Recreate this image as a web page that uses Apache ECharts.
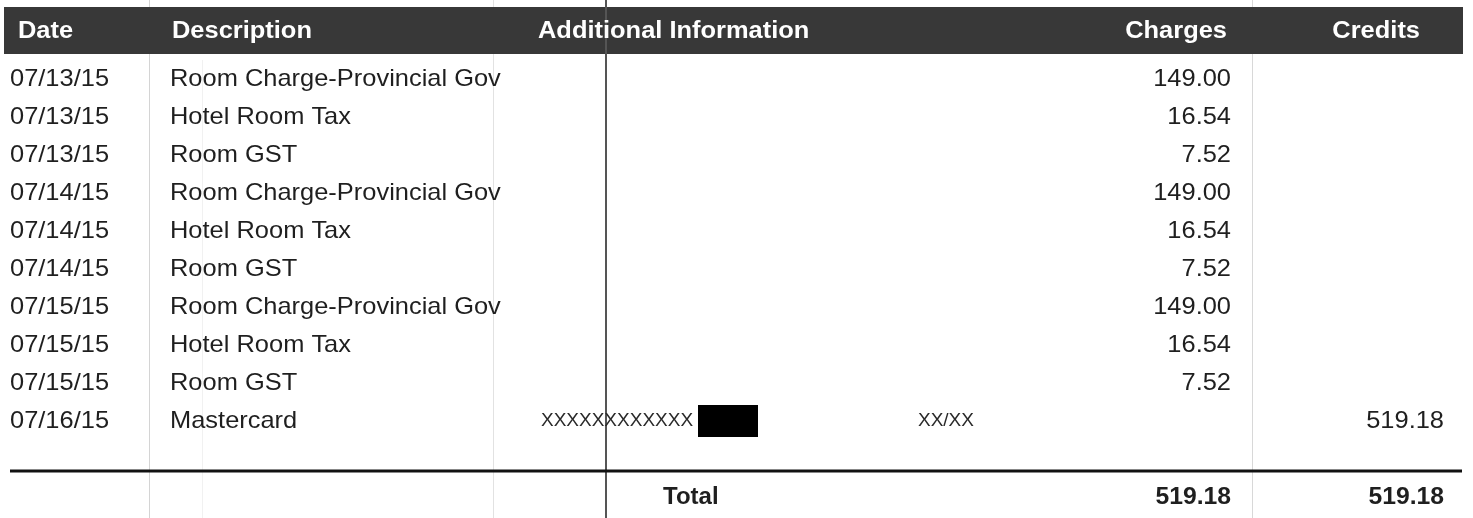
<!DOCTYPE html>
<html>
<head>
<meta charset="utf-8">
<script src="https://cdn.jsdelivr.net/npm/echarts@6/dist/echarts.min.js"></script>
<style>
html,body{margin:0;padding:0;background:#fff;}
#c{width:1473px;height:518px;}
</style>
</head>
<body>
<div id="c"></div>
<script>
// ---- data ----
const headers = ['Date', 'Description', 'Additional Information', 'Charges', 'Credits'];
const dates = ['07/13/15','07/13/15','07/13/15','07/14/15','07/14/15','07/14/15','07/15/15','07/15/15','07/15/15','07/16/15'];
const descriptions = ['Room Charge-Provincial Gov','Hotel Room Tax','Room GST','Room Charge-Provincial Gov','Hotel Room Tax','Room GST','Room Charge-Provincial Gov','Hotel Room Tax','Room GST','Mastercard'];
const cardMasked = ['','','','','','','','','','XXXXXXXXXXXX'];
const cardExpiry = ['','','','','','','','','','XX/XX'];
const charges = [149.00, 16.54, 7.52, 149.00, 16.54, 7.52, 149.00, 16.54, 7.52, null];
const credits = [null, null, null, null, null, null, null, null, null, 519.18];
const totalLabel = 'Total';

// ---- derived ----
const fmt = v => (v === null || v === undefined) ? '' : v.toFixed(2);
const totalCharges = charges.reduce((s, v) => s + (v || 0), 0);
const totalCredits = credits.reduce((s, v) => s + (v || 0), 0);
const rowIdx = dates.map((d, i) => String(i));

// ---- style constants ----
const FONT = '"Liberation Sans", Arial, Helvetica, sans-serif';
const INK = '#1f1f1f';
const SX = 1.06;
const FS = 24;
const col = { date: 10, desc: 170, card: 541, exp: 918, charge: 1231, credit: 1444 };

const chart = echarts.init(document.getElementById('c'), null, { renderer: 'canvas' });

function txt(x, y, text, opts) {
  opts = opts || {};
  return {
    type: 'text', x: x, y: y, scaleX: opts.sx || SX,
    style: {
      text: text, fill: opts.fill || INK,
      font: (opts.bold ? 'bold ' : '') + (opts.fs || FS) + 'px ' + FONT,
      textAlign: opts.align || 'left', textVerticalAlign: 'middle',
      align: opts.align || 'left', verticalAlign: 'middle'
    }
  };
}

const option = {
  animation: false,
  backgroundColor: '#ffffff',
  grid: { left: 0, right: 0, top: 60, height: 380 },
  xAxis: { type: 'value', min: 0, max: 1473, show: false },
  yAxis: { type: 'category', data: rowIdx, inverse: true, show: false },
  graphic: {
    elements: [
      // faint column rules
      { type: 'line', z: 1, shape: { x1: 149.5, y1: 0, x2: 149.5, y2: 518 }, style: { stroke: '#d4d4d4', lineWidth: 1 } },
      { type: 'line', z: 1, shape: { x1: 202.5, y1: 60, x2: 202.5, y2: 518 }, style: { stroke: '#f1f1f1', lineWidth: 1 } },
      { type: 'line', z: 1, shape: { x1: 493.5, y1: 0, x2: 493.5, y2: 518 }, style: { stroke: '#e2e2e2', lineWidth: 1 } },
      { type: 'line', z: 1, shape: { x1: 1252.5, y1: 0, x2: 1252.5, y2: 518 }, style: { stroke: '#d8d8d8', lineWidth: 1 } },
      // header bar
      { type: 'rect', z: 2, shape: { x: 4, y: 7, width: 1459, height: 47 }, style: { fill: '#383838' } },
      txt(18, 31, headers[0], { bold: true, fill: '#ffffff' }),
      txt(172, 31, headers[1], { bold: true, fill: '#ffffff' }),
      txt(538, 31, headers[2], { bold: true, fill: '#ffffff' }),
      txt(1227, 31, headers[3], { bold: true, fill: '#ffffff', align: 'right' }),
      txt(1420, 31, headers[4], { bold: true, fill: '#ffffff', align: 'right' }),
      // dark rule
      { type: 'line', z: 3, shape: { x1: 606, y1: 0, x2: 606, y2: 518 }, style: { stroke: '#555555', lineWidth: 2 } },
      // total separator
      { type: 'line', z: 3, shape: { x1: 10, y1: 471, x2: 1462, y2: 471 }, style: { stroke: '#111111', lineWidth: 3 } },
      // totals
      txt(663, 497, totalLabel, { bold: true, sx: 1.0 }),
      txt(col.charge, 497, fmt(totalCharges), { bold: true, align: 'right', sx: 1.03 }),
      txt(col.credit, 497, fmt(totalCredits), { bold: true, align: 'right', sx: 1.03 })
    ].map(e => Object.assign({ z: 5 }, e))
  },
  series: [{
    type: 'custom',
    coordinateSystem: 'cartesian2d',
    z: 4,
    data: rowIdx.map((r, i) => [0, i]),
    renderItem: function (params, api) {
      const i = api.value(1);
      const p = (x) => api.coord([x, i]);
      const y = p(0)[1];
      const kids = [
        txt(p(col.date)[0], y, dates[i]),
        txt(p(col.desc)[0], y, descriptions[i])
      ];
      if (cardMasked[i]) {
        kids.push(txt(p(col.card)[0], y, cardMasked[i], { fs: 19, sx: 1.0, fill: '#2a2a2a' }));
        const w = 157;
        kids.push({ type: 'rect', shape: { x: p(col.card)[0] + w, y: y - 16, width: 60, height: 32 }, style: { fill: '#000' } });
      }
      if (cardExpiry[i]) {
        kids.push(txt(p(col.exp)[0], y, cardExpiry[i], { fs: 19, sx: 1.0, fill: '#2a2a2a' }));
      }
      if (charges[i] !== null) kids.push(txt(p(col.charge)[0], y, fmt(charges[i]), { align: 'right' }));
      if (credits[i] !== null) kids.push(txt(p(col.credit)[0], y, fmt(credits[i]), { align: 'right' }));
      return { type: 'group', children: kids };
    }
  }]
};
chart.setOption(option);
</script>
</body>
</html>
